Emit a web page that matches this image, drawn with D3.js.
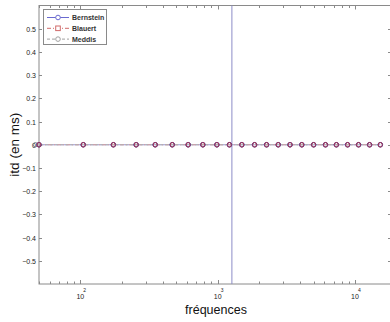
<!DOCTYPE html>
<html>
<head>
<meta charset="utf-8">
<script src="https://cdn.jsdelivr.net/npm/d3@7"></script>
<style>
  body { margin: 0; background: #fff; }
  svg { display: block; font-family: "Liberation Sans", Arial, sans-serif; }
</style>
</head>
<body>
<div id="chart"></div>
<script>
// frequencies (Hz) of the filter channels
var freqs = [50, 105, 174, 255, 351, 467, 610, 780, 987, 1218, 1500, 1858,
    2271, 2762, 3365, 4101, 5000, 6100, 7323, 8837, 10620, 12780, 15300];
var meddisFreqs = [47, 50, 105, 174, 255, 351, 467, 610, 780, 987, 1218, 1500, 1858,
    2271, 2762, 3365, 4101, 5000, 6100, 7323, 8837, 10620, 12780, 15300];

// itd (ms) for each model
var bernstein = [0, 0, 0, 0, 0, 0, 0, 0, 0, 0, 0, 0, 0, 0, 0, 0, 0, 0, 0, 0, 0, 0, 0];
var blauert   = [0, 0, 0, 0, 0, 0, 0, 0, 0, 0, 0, 0, 0, 0, 0, 0, 0, 0, 0, 0, 0, 0, 0];
var meddis    = [0, 0, 0, 0, 0, 0, 0, 0, 0, 0, 0, 0, 0, 0, 0, 0, 0, 0, 0, 0, 0, 0, 0, 0];

var seriesNames = ['Bernstein', 'Blauert', 'Meddis'];
var yTicks = [0.5, 0.4, 0.3, 0.2, 0.1, 0, -0.1, -0.2, -0.3, -0.4, -0.5];
var xTicks = [100, 1000, 10000];
var markerFreq = 1270; // vertical reference line

var W = 390, H = 322;
var pLeft = 39, pRight = 391, pTop = 5.5, pBottom = 284;

var svg = d3.select('#chart').append('svg')
    .attr('width', W).attr('height', H);

var x = d3.scaleLog().domain([50, 18300]).range([pLeft, pRight]);
var y = d3.scaleLinear().domain([-0.6, 0.6]).range([pBottom, pTop]);

var axisColor = '#8a8a8a';

// minor ticks on log axis
var minor = [];
[10, 100, 1000, 10000].forEach(function (d) {
    for (var k = 1; k <= 9; k++) {
        var v = d * k;
        if (v >= x.domain()[0] && v <= x.domain()[1]) minor.push(v);
    }
});

var axes = svg.append('g');

// frame
axes.append('rect')
    .attr('x', pLeft).attr('y', pTop)
    .attr('width', pRight - pLeft).attr('height', pBottom - pTop)
    .attr('fill', 'none').attr('stroke', axisColor).attr('stroke-width', 1);

// x ticks (inward, top and bottom)
minor.forEach(function (v) {
    var len = xTicks.indexOf(v) >= 0 ? 4 : 2.5;
    var px = Math.round(x(v)) + 0.5;
    axes.append('line').attr('x1', px).attr('x2', px)
        .attr('y1', pBottom).attr('y2', pBottom - len)
        .attr('stroke', axisColor);
    axes.append('line').attr('x1', px).attr('x2', px)
        .attr('y1', pTop).attr('y2', pTop + len)
        .attr('stroke', axisColor);
});

// y ticks (inward, left and right)
yTicks.forEach(function (v) {
    var py = Math.round(y(v)) + 0.5;
    axes.append('line').attr('x1', pLeft).attr('x2', pLeft + 3)
        .attr('y1', py).attr('y2', py).attr('stroke', axisColor);
    axes.append('line').attr('x1', pRight).attr('x2', pRight - 3)
        .attr('y1', py).attr('y2', py).attr('stroke', axisColor);
    axes.append('text')
        .attr('x', pLeft - 3).attr('y', py + 2.5)
        .attr('text-anchor', 'end')
        .attr('font-size', 7)
        .attr('fill', '#222')
        .text(v === 0 ? '0' : d3.format('.1f')(v));
});

// x tick labels 10^n
xTicks.forEach(function (v) {
    var px = x(v);
    axes.append('text')
        .attr('x', px).attr('y', 299)
        .attr('text-anchor', 'middle')
        .attr('font-size', 7)
        .attr('fill', '#222')
        .text('10');
    axes.append('text')
        .attr('x', px + 3).attr('y', 292)
        .attr('font-size', 5)
        .attr('fill', '#222')
        .text(Math.round(Math.log10(v)));
});

// axis labels
svg.append('text')
    .attr('x', 216).attr('y', 314)
    .attr('text-anchor', 'middle')
    .attr('font-size', 12.5)
    .attr('fill', '#111')
    .text('fréquences');

svg.append('text')
    .attr('transform', 'translate(19,' + y(0) + ') rotate(-90)')
    .attr('text-anchor', 'middle')
    .attr('font-size', 13.5)
    .attr('fill', '#111')
    .text('itd (en ms)');

// vertical reference line
svg.append('line')
    .attr('x1', x(markerFreq)).attr('x2', x(markerFreq))
    .attr('y1', pTop).attr('y2', pBottom)
    .attr('stroke', '#8c8cc8').attr('stroke-width', 1);

// series
var line = d3.line()
    .x(function (d) { return x(d[0]); })
    .y(function (d) { return y(d[1]); });

var bData = d3.zip(freqs, bernstein);
var lData = d3.zip(freqs, blauert);
var mData = d3.zip(meddisFreqs, meddis);

svg.append('path').datum(bData).attr('d', line)
    .attr('fill', 'none').attr('stroke', '#9a9ad8').attr('stroke-width', 1);
svg.append('path').datum(lData).attr('d', line)
    .attr('fill', 'none').attr('stroke', '#d89a9a').attr('stroke-width', 1)
    .attr('stroke-dasharray', '4,2,1,2');
svg.append('path').datum(mData).attr('d', line)
    .attr('fill', 'none').attr('stroke', '#b0b0b0').attr('stroke-width', 1)
    .attr('stroke-dasharray', '3,2');

svg.append('g').selectAll('circle').data(mData).join('circle')
    .attr('cx', function (d) { return x(d[0]); })
    .attr('cy', function (d) { return y(d[1]); })
    .attr('r', 2.2)
    .attr('fill', 'none').attr('stroke', '#777').attr('stroke-width', 0.9);
svg.append('g').selectAll('circle').data(bData).join('circle')
    .attr('cx', function (d) { return x(d[0]); })
    .attr('cy', function (d) { return y(d[1]); })
    .attr('r', 2.3)
    .attr('fill', 'none').attr('stroke', '#4a3a9c').attr('stroke-width', 1);
svg.append('g').selectAll('rect').data(lData).join('rect')
    .attr('x', function (d) { return x(d[0]) - 1.8; })
    .attr('y', function (d) { return y(d[1]) - 2.2; })
    .attr('width', 3.6).attr('height', 4.4)
    .attr('rx', 1.5)
    .attr('fill', 'none').attr('stroke', '#b8304a').attr('stroke-width', 0.8);

// legend
var lg = svg.append('g');
lg.append('rect')
    .attr('x', 43.5).attr('y', 9.5).attr('width', 63).attr('height', 35)
    .attr('fill', '#fff').attr('stroke', axisColor);

var legendStyles = [
    { stroke: '#6a6ad0', dash: null, marker: 'circle' },
    { stroke: '#d06a6a', dash: '4,2,1,2', marker: 'square' },
    { stroke: '#a0a0a0', dash: '3,2', marker: 'circle' }
];
seriesNames.forEach(function (name, i) {
    var ly = 17.5 + i * 10.8;
    var s = legendStyles[i];
    lg.append('line').attr('x1', 47).attr('x2', 69)
        .attr('y1', ly).attr('y2', ly)
        .attr('stroke', s.stroke)
        .attr('stroke-dasharray', s.dash);
    if (s.marker === 'circle') {
        lg.append('circle').attr('cx', 58).attr('cy', ly).attr('r', 2.3)
            .attr('fill', '#fff').attr('stroke', s.stroke);
    } else {
        lg.append('rect').attr('x', 55.7).attr('y', ly - 2.3)
            .attr('width', 4.6).attr('height', 4.6)
            .attr('fill', '#fff').attr('stroke', s.stroke);
    }
    lg.append('text').attr('x', 72).attr('y', ly + 2.6)
        .attr('font-size', 7).attr('font-weight', 'bold')
        .attr('fill', '#333')
        .text(name);
});
</script>
</body>
</html>
